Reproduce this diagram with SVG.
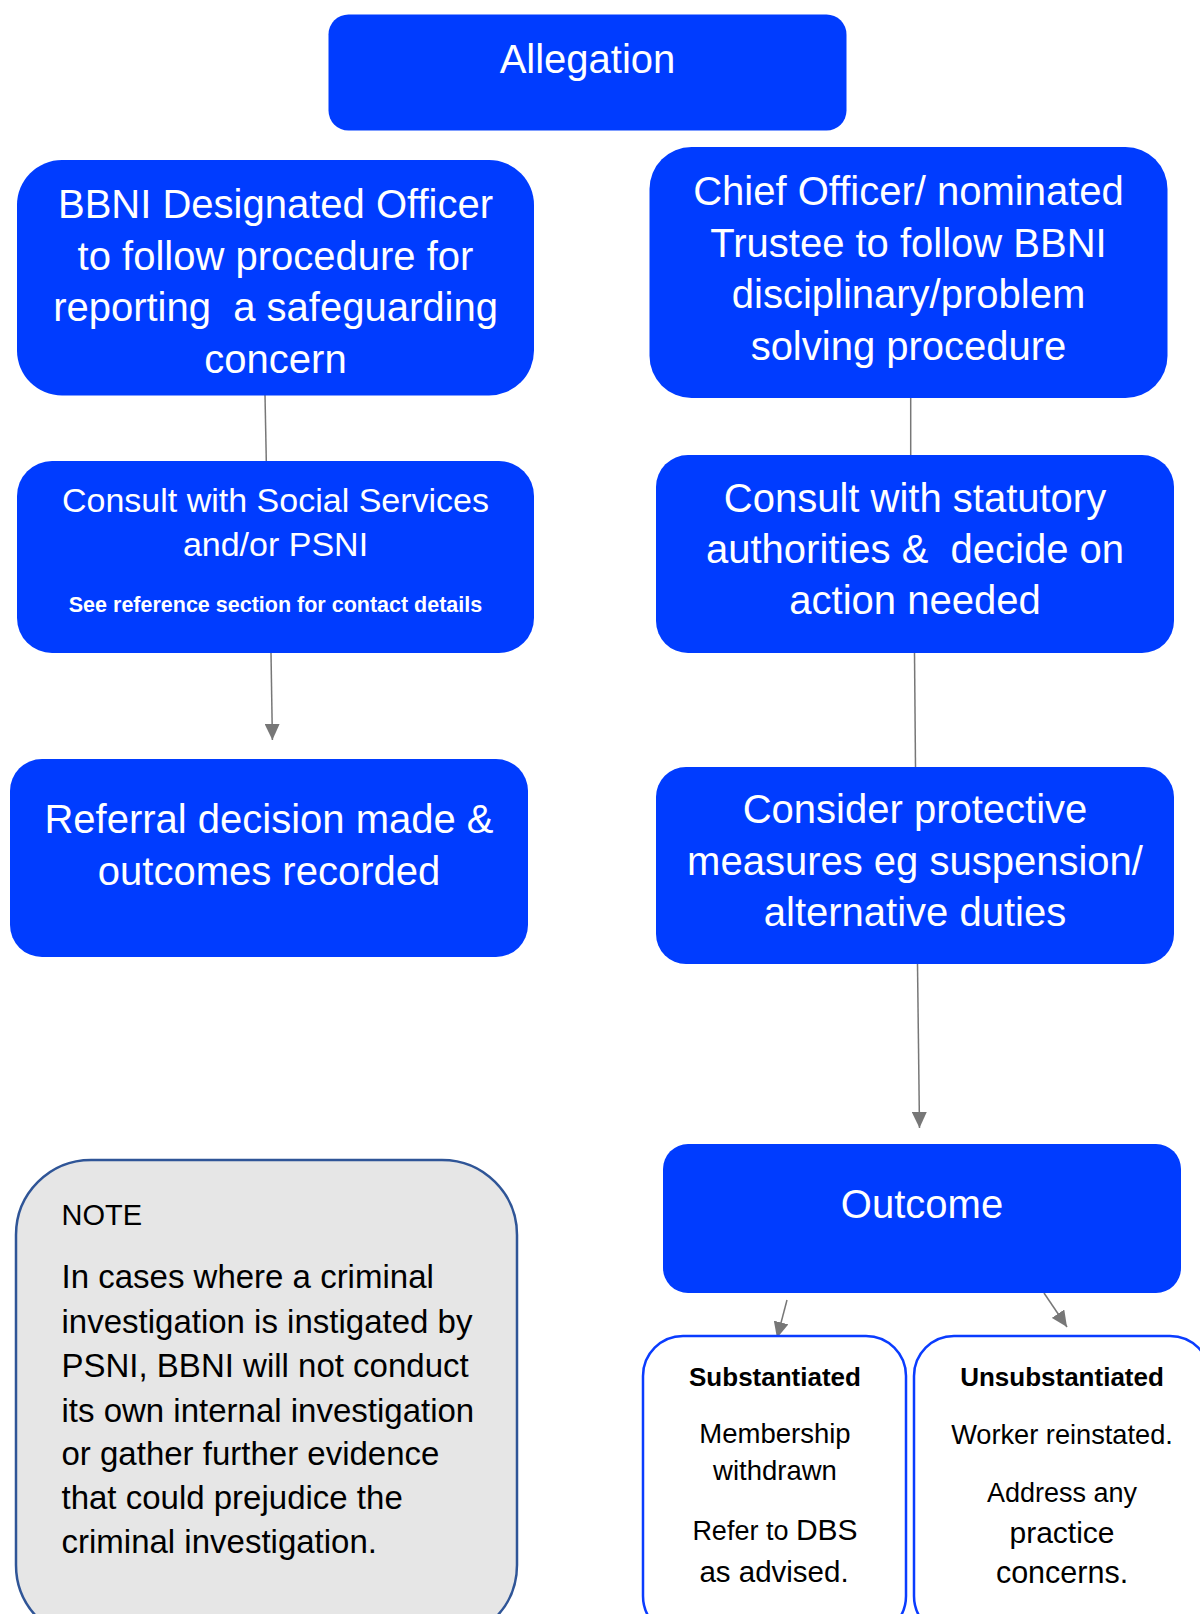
<svg xmlns="http://www.w3.org/2000/svg" width="1200" height="1614" viewBox="0 0 1200 1614">
<style>
  .box { fill: #003CFF; }
  .wt { fill: #FFFFFF; font-family: "Liberation Sans", Arial, Helvetica, sans-serif; text-anchor: middle; }
  .h40 { font-size: 40px; }
  .h34 { font-size: 34px; }
  .small { font-size: 21.5px; font-weight: bold; }
  .out { fill: #FFFFFF; stroke: #0A3CFF; stroke-width: 2.5; }
  .bt { fill: #000000; font-family: "Liberation Sans", Arial, Helvetica, sans-serif; }
  .ctr { text-anchor: middle; }
  .note { fill: #E6E6E6; stroke: #2F5597; stroke-width: 2.5; }
  .conn { stroke: #777777; stroke-width: 1.5; fill: none; }
</style>
<defs>
  <marker id="arr" markerUnits="userSpaceOnUse" markerWidth="16" markerHeight="15" refX="16" refY="7.5" orient="auto" viewBox="0 0 16 15">
    <path d="M0,0 L16,7.5 L0,15 Z" fill="#777777"/>
  </marker>
</defs>

<g id="connectors">
  <line class="conn" x1="265" y1="395" x2="266.3" y2="461"/>
  <line class="conn" x1="271" y1="653" x2="272.4" y2="740" marker-end="url(#arr)"/>
  <line class="conn" x1="910.7" y1="398" x2="910.7" y2="455"/>
  <line class="conn" x1="914.5" y1="653" x2="915.5" y2="767"/>
  <line class="conn" x1="917.5" y1="964" x2="919.5" y2="1128" marker-end="url(#arr)"/>
  <line class="conn" x1="787" y1="1300" x2="777" y2="1338" marker-end="url(#arr)"/>
  <line class="conn" x1="1044" y1="1293" x2="1067" y2="1327" marker-end="url(#arr)"/>
</g>

<g id="allegation">
  <rect class="box" x="328.5" y="14.5" width="518" height="116" rx="20"/>
  <text class="wt h40" x="587.5" y="73">Allegation</text>
</g>

<g id="designated-officer">
  <rect class="box" x="17" y="160" width="517" height="235.5" rx="45"/>
  <text class="wt h40" x="275.5" y="218">BBNI Designated Officer</text>
  <text class="wt h40" x="275.5" y="269.5">to follow procedure for</text>
  <text class="wt h40" x="275.5" y="321" xml:space="preserve">reporting  a safeguarding</text>
  <text class="wt h40" x="275.5" y="373">concern</text>
</g>

<g id="chief-officer">
  <rect class="box" x="649.5" y="147" width="518" height="251" rx="42"/>
  <text class="wt h40" x="908.5" y="205">Chief Officer/ nominated</text>
  <text class="wt h40" x="908.5" y="256.7">Trustee to follow BBNI</text>
  <text class="wt h40" x="908.5" y="308">disciplinary/problem</text>
  <text class="wt h40" x="908.5" y="360">solving procedure</text>
</g>

<g id="consult-social">
  <rect class="box" x="17" y="461" width="517" height="192" rx="35"/>
  <text class="wt h34" x="275.5" y="512">Consult with Social Services</text>
  <text class="wt h34" x="275.5" y="556">and/or PSNI</text>
  <text class="wt small" x="275.5" y="612">See reference section for contact details</text>
</g>

<g id="consult-statutory">
  <rect class="box" x="656" y="455" width="518" height="198" rx="32"/>
  <text class="wt h40" x="915" y="512">Consult with statutory</text>
  <text class="wt h40" x="915" y="563" xml:space="preserve">authorities &amp;  decide on</text>
  <text class="wt h40" x="915" y="614">action needed</text>
</g>

<g id="referral">
  <rect class="box" x="10" y="759" width="518" height="198" rx="32"/>
  <text class="wt h40" x="269" y="833">Referral decision made &amp;</text>
  <text class="wt h40" x="269" y="885">outcomes recorded</text>
</g>

<g id="protective">
  <rect class="box" x="656" y="767" width="518" height="197" rx="30"/>
  <text class="wt h40" x="915" y="822.7">Consider protective</text>
  <text class="wt h40" x="915" y="875">measures eg suspension/</text>
  <text class="wt h40" x="915" y="926">alternative duties</text>
</g>

<g id="outcome">
  <rect class="box" x="663" y="1144" width="518" height="149" rx="25"/>
  <text class="wt h40" x="922" y="1218">Outcome</text>
</g>

<g id="substantiated">
  <rect class="out" x="643" y="1336" width="263" height="300" rx="40"/>
  <text class="bt ctr" x="775" y="1386" font-size="26" font-weight="bold">Substantiated</text>
  <text class="bt ctr" x="775" y="1443" font-size="27.5">Membership</text>
  <text class="bt ctr" x="775" y="1480" font-size="27.5">withdrawn</text>
  <text class="bt ctr" x="775" y="1540" font-size="27">Refer to <tspan font-size="30">DBS</tspan></text>
  <text class="bt ctr" x="774" y="1582" font-size="29.5">as advised.</text>
</g>

<g id="unsubstantiated">
  <rect class="out" x="914" y="1336" width="296" height="300" rx="40"/>
  <text class="bt ctr" x="1062" y="1386" font-size="26" font-weight="bold">Unsubstantiated</text>
  <text class="bt ctr" x="1062" y="1444" font-size="27.2">Worker reinstated.</text>
  <text class="bt ctr" x="1062" y="1502" font-size="27">Address any</text>
  <text class="bt ctr" x="1062" y="1543" font-size="30">practice</text>
  <text class="bt ctr" x="1062" y="1583" font-size="30.5">concerns.</text>
</g>

<g id="note">
  <rect class="note" x="16" y="1160" width="501" height="480" rx="75"/>
  <text class="bt" x="61.5" y="1225" font-size="29">NOTE</text>
  <text class="bt" x="61.5" y="1288" font-size="33">In cases where a criminal</text>
  <text class="bt" x="61.5" y="1333" font-size="33">investigation is instigated by</text>
  <text class="bt" x="61.5" y="1377" font-size="33">PSNI, BBNI will not conduct</text>
  <text class="bt" x="61.5" y="1422" font-size="33">its own internal investigation</text>
  <text class="bt" x="61.5" y="1465" font-size="33">or gather further evidence</text>
  <text class="bt" x="61.5" y="1509" font-size="33">that could prejudice the</text>
  <text class="bt" x="61.5" y="1553" font-size="33">criminal investigation.</text>
</g>
</svg>
